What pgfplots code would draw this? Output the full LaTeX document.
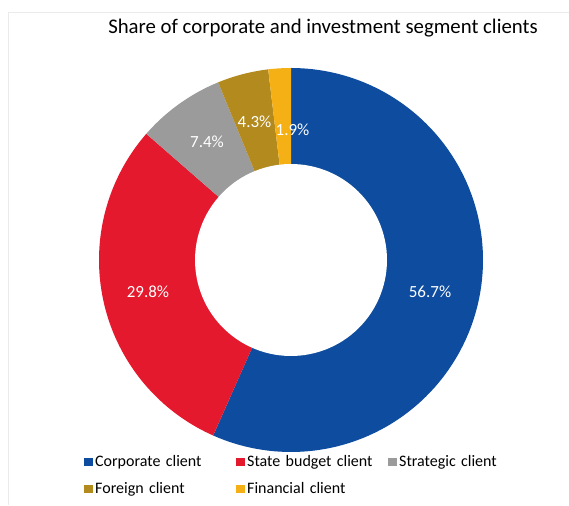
\documentclass[border=0pt]{standalone}
\usepackage{pgfplots}
\pgfplotsset{compat=1.18}
\usepackage{fontspec}
\setmainfont{Carlito}
\definecolor{cblue}{HTML}{0D4C9E}
\definecolor{cred}{HTML}{E5192D}
\definecolor{cgray}{HTML}{9B9B9B}
\definecolor{colive}{HTML}{B38A1E}
\definecolor{cyellow}{HTML}{F5B015}
\pgfplotsset{sqlegend/.style={legend image code/.code={\fill[##1] (0pt,-4pt) rectangle (9pt,4pt);}}}
\begin{document}
\begin{tikzpicture}
\begin{axis}[
  scale only axis, width=569pt, height=505pt,
  xmin=0, xmax=569, ymin=0, ymax=505,
  hide axis, clip=false,
  legend columns=3,
  legend cell align=left,
  legend style={at={(axis cs:84,52)}, anchor=north west, draw=none, fill=none,
    inner sep=0pt, font=\fontsize{16}{19}\selectfont, row sep=11pt,
    nodes={text width=139pt, inner sep=2pt}},
]
% wedges: cumulative shares (%), drawn clockwise from 12 o'clock; total 100.1
\addplot[sqlegend, fill=cblue, draw=none, domain=0:56.7, samples=120]
  ({291+192*cos(90-3.5964*x)},{245+192*sin(90-3.5964*x)}) -- (axis cs:291,245) -- cycle;
\addplot[sqlegend, fill=cred, draw=none, domain=56.7:86.5, samples=80]
  ({291+192*cos(90-3.5964*x)},{245+192*sin(90-3.5964*x)}) -- (axis cs:291,245) -- cycle;
\addplot[sqlegend, fill=cgray, draw=none, domain=86.5:93.9, samples=30]
  ({291+192*cos(90-3.5964*x)},{245+192*sin(90-3.5964*x)}) -- (axis cs:291,245) -- cycle;
\addplot[sqlegend, fill=colive, draw=none, domain=93.9:98.2, samples=20]
  ({291+192*cos(90-3.5964*x)},{245+192*sin(90-3.5964*x)}) -- (axis cs:291,245) -- cycle;
\addplot[sqlegend, fill=cyellow, draw=none, domain=98.2:100.1, samples=10]
  ({291+192*cos(90-3.5964*x)},{245+192*sin(90-3.5964*x)}) -- (axis cs:291,245) -- cycle;
\addplot[fill=white, draw=none, domain=0:360, samples=120, forget plot]
  ({291+96*cos(x)},{245+96*sin(x)}) -- cycle;
\legend{Corporate client, State budget client, Strategic client, Foreign client, Financial client}
% labels
\begin{scope}[every node/.style={text=white, font=\fontsize{17}{20}\selectfont}]
\node at (axis cs:430,213) {56.7\%};
\node at (axis cs:148,213) {29.8\%};
\node at (axis cs:207,363) {7.4\%};
\node at (axis cs:254.5,383) {4.3\%};
\node at (axis cs:292.5,375) {1.9\%};
\end{scope}
\node[font=\fontsize{20.8}{24}\selectfont] at (axis cs:323,477) {Share of corporate and investment segment clients};
\draw[black!8] (axis cs:8,0) -- (axis cs:8,493) -- (axis cs:569,493);
\end{axis}
\pgfresetboundingbox
\useasboundingbox (current axis.south west) rectangle (current axis.north east);
\end{tikzpicture}
\end{document}
